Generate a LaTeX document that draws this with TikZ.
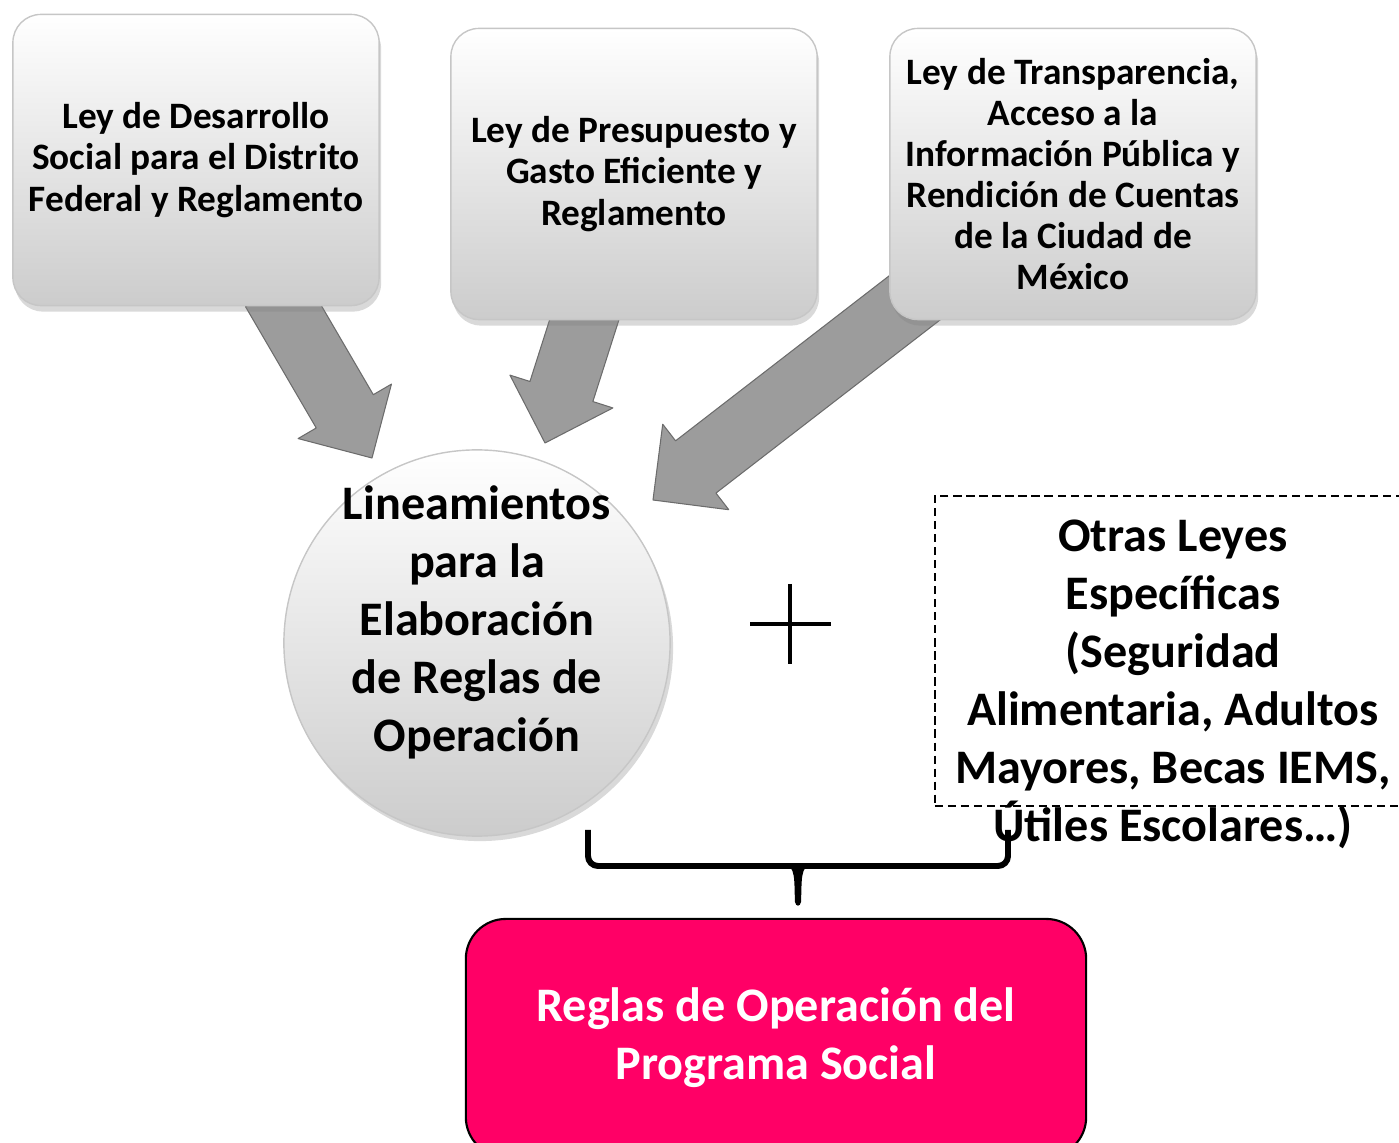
\documentclass[tikz,border=0pt]{standalone}
\usepackage{fontspec}
\setmainfont{Carlito}
\usetikzlibrary{calc,shadows,positioning}
\definecolor{rosa}{HTML}{FF0066}
\definecolor{grisclaro}{HTML}{CCCCCC}
\definecolor{grisflecha}{HTML}{9C9C9C}
\newcommand{\flecha}[2]
	{
	\coordinate (tempa) at ($(#2)!0.54cm!(#1)$);%base of the head
	\filldraw[flechagris] ($(#1)!0.33cm!90:(#2)$) -- ($(tempa)!0.33cm!90:(#2)$) -- ($(tempa)!0.54cm!90:(#2)$) -- (#2) -- ($(tempa)!0.54cm!-90:(#2)$) -- ($(tempa)!0.33cm!-90:(#2)$) -- ($(#1)!0.33cm!-90:(#2)$) -- cycle;
	}

\begin{document}
\begin{tikzpicture}[x=0.01cm,y=-0.01cm,
    flechagris/.style={fill=grisflecha,draw=gray!85!black,line width=0.3pt,line join=round},
    caja/.style={rectangle,rounded corners=0.28cm,minimum width=3.66cm,minimum height=2.91cm,top color=white,bottom color=grisclaro,draw=gray!45,line width=0.4pt,drop shadow={opacity=0.3,shadow xshift=0.02cm,shadow yshift=-0.06cm},align=center,font=\bfseries\fontsize{10.6}{11.7}\selectfont},
    bola/.style={circle,minimum size=3.86cm,top color=white,bottom color=grisclaro,draw=gray!45,line width=0.4pt,drop shadow={opacity=0.3,shadow xshift=0.03cm,shadow yshift=-0.05cm}},
    textogr/.style={align=center,font=\bfseries\fontsize{13.7}{16.5}\selectfont},
    punteada/.style={rectangle,draw,line width=0.5pt,dash pattern=on 2.3pt off 1.4pt,minimum width=4.76cm,minimum height=3.10cm},
    reglas/.style={rectangle,rounded corners=0.4cm,fill=rosa,draw=black,line width=0.6pt,minimum width=6.2cm,minimum height=2.38cm,align=center,text=white,font=\bfseries\fontsize{13.7}{16.5}\selectfont},
    llave/.style={line width=1.7pt,rounded corners=0.1cm}]
    \useasboundingbox (0,0) rectangle (1399,1143);
    \coordinate (d1) at (274,290);
    \coordinate (t1) at (372,458);
    \coordinate (d2) at (589,305);
    \coordinate (t2) at (545,443);
    \coordinate (d3) at (930,286);
    \coordinate (t3) at (653,500);
    \foreach \a/\b in {d1/t1,d2/t2,d3/t3} {\flecha{\a}{\b}}
    \node[caja] (des) at (196,160) {Ley de Desarrollo\\Social para el Distrito\\Federal y Reglamento};
    \node[caja] (pres) at (634,174) {Ley de Presupuesto y\\Gasto Eficiente y\\Reglamento};
    \node[caja] (trans) at (1073,174) {Ley de Transparencia,\\Acceso a la\\Información Pública y\\Rendición de Cuentas\\de la Ciudad de\\México};
    \node[bola] (lin) at (477,643) {};
    \node[textogr] (lintxt) at ([yshift=0.21cm]lin.center) {Lineamientos\\para la\\Elaboración\\de Reglas de\\Operación};
    \coordinate (mas) at (790,624);
    \draw[line width=1.3pt] ($(mas)+(-40,0)$) -- ($(mas)+(41,0)$) ($(mas)+(0,-40)$) -- ($(mas)+(0,40)$);
    \node[punteada] (otras) at (1173,651) {};
    \node[textogr] (otrastxt) at ([yshift=-0.33cm]otras.center) {Otras Leyes\\Específicas\\(Seguridad\\Alimentaria, Adultos\\Mayores, Becas IEMS,\\Útiles Escolares…)};
    \draw[llave] (588,830) -- (588,866) -- (1008,866) -- (1008,830);
    \fill (784,864) .. controls (796,866) and (794,880) .. (795,902) .. controls (796,907) and (800,907) .. (801,902) .. controls (802,880) and (800,866) .. (812,864) -- cycle;
    \node[reglas] (rop) at (776,1038) {Reglas de Operación del\\Programa Social};
\end{tikzpicture}
\end{document}
